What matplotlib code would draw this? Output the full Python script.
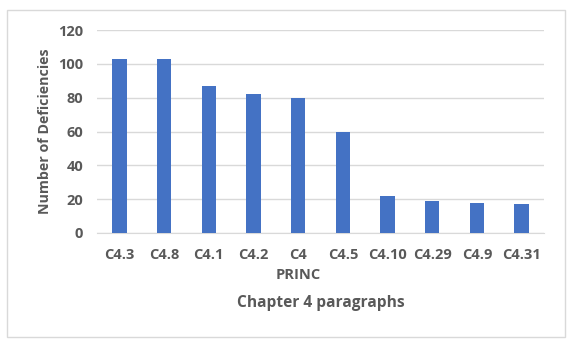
import matplotlib.pyplot as plt
from matplotlib.patches import Rectangle

categories = ['C4.3', 'C4.8', 'C4.1', 'C4.2', 'C4\nPRINC', 'C4.5', 'C4.10', 'C4.29', 'C4.9', 'C4.31']
deficiencies = [103, 103, 87, 82, 80, 60, 22, 19, 18, 17]
y_ticks = [0, 20, 40, 60, 80, 100, 120]

plt.rcParams['font.family'] = ['Open Sans', 'DejaVu Sans']
text_color = '#595959'

fig = plt.figure(figsize=(5.7, 3.44), dpi=100)
ax = fig.add_axes([97 / 570, 1 - 233 / 344, 447 / 570, 203 / 344])

x = range(len(categories))
ax.bar(x, deficiencies, width=0.32, color='#4472C4', zorder=3)

ax.set_xlim(-0.5, len(categories) - 0.5)
ax.set_ylim(0, 120)
ax.set_yticks(y_ticks)
ax.set_xticks(list(x))
ax.set_xticklabels(categories, fontsize=10.5, fontweight='bold', color=text_color,
                   linespacing=1.55, va='top')
ax.tick_params(axis='x', length=0, pad=11)
ax.tick_params(axis='y', length=0, pad=10, labelsize=10.5, labelcolor=text_color)
for lbl in ax.get_yticklabels():
    lbl.set_fontweight('bold')

ax.grid(axis='y', color='#D9D9D9', linewidth=1, zorder=0)
for side in ['top', 'right', 'left']:
    ax.spines[side].set_visible(False)
ax.spines['bottom'].set_color('#D9D9D9')

ax.set_ylabel('Number of Deficiencies', fontsize=10.3, fontweight='bold', color=text_color, labelpad=4)
fig.text((97 + 544) / 2 / 570, 1 - 303 / 344, 'Chapter 4 paragraphs', fontsize=11.2,
         fontweight='bold', color=text_color, ha='center', va='center')

fig.patches.append(Rectangle((7 / 570, 1 - 337 / 344), 558 / 570, 327 / 344,
                             transform=fig.transFigure, fill=False,
                             edgecolor='#D9D9D9', linewidth=1))

fig.savefig('out.png', dpi=100)
